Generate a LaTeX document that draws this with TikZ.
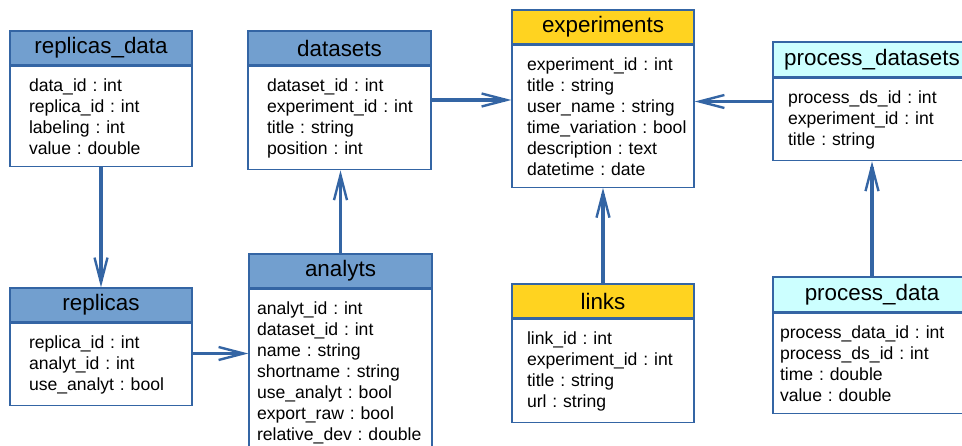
\documentclass[tikz,border=0pt]{standalone}
\usepackage{fontspec}
\setmainfont{Liberation Sans}
\usetikzlibrary{arrows.meta,positioning}
\definecolor{edgeblue}{HTML}{3465A4}
\definecolor{hdblue}{HTML}{729FCF}
\definecolor{hdyellow}{HTML}{FFD320}
\definecolor{hdcyan}{HTML}{CCFFFF}
\frenchspacing
\hyphenpenalty=10000
\begin{document}
\begin{tikzpicture}[x=1pt, y=-1pt,
  tbl/.style={draw=edgeblue, line width=1.3pt, minimum height=34pt, inner sep=0pt, font=\fontsize{22.4}{27}\selectfont},
  fld/.style={draw=edgeblue, line width=1.3pt, fill=white, align=left, inner ysep=12pt, font=\fontsize{17.6}{21}\selectfont},
  fk/.style={draw=edgeblue, line width=3.5pt, -{Straight Barb[length=25pt, width=13pt, line width=2.4pt].}}]
\useasboundingbox (0,0) rectangle (962,446);
\node[tbl, fill=hdblue, minimum width=182pt] (repdataT) at (101,48) {replicas\_data};
\node[fld, below=0pt of repdataT, text width=144pt, inner xsep=19pt] (repdataF) {data\_id~:~int\\replica\_id~:~int\\labeling~:~int\\value~:~double};
\node[tbl, fill=hdblue, minimum width=183pt] (dataT) at (339.5,48) {datasets};
\node[fld, below=0pt of dataT, text width=145pt, inner xsep=19pt] (dataF) {dataset\_id~:~int\\experiment\_id~:~int\\title~:~string\\position~:~int};
\node[tbl, fill=hdyellow, minimum width=182pt] (expT) at (603,27) {experiments};
\node[fld, below=0pt of expT, text width=152pt, inner xsep=15pt] (expF) {experiment\_id~:~int\\title~:~string\\user\_name~:~string\\time\_variation~:~bool\\description~:~text\\datetime~:~date};
\node[tbl, fill=hdcyan, minimum width=198pt, minimum height=35pt] (pdsT) at (872,59.5) {process\_datasets};
\node[fld, below=0pt of pdsT, text width=168pt, inner xsep=15pt] (pdsF) {process\_ds\_id~:~int\\experiment\_id~:~int\\title~:~string};
\node[tbl, fill=hdblue, minimum width=182pt] (repT) at (101,305) {replicas};
\node[fld, below=0pt of repT, text width=144pt, inner xsep=19pt] (repF) {replica\_id~:~int\\analyt\_id~:~int\\use\_analyt~:~bool};
\node[tbl, fill=hdblue, minimum width=183pt] (anaT) at (340.5,271) {analyts};
\node[fld, below=0pt of anaT, text width=167pt, inner xsep=8pt] (anaF) {analyt\_id~:~int\\dataset\_id~:~int\\name~:~string\\shortname~:~string\\use\_analyt~:~bool\\export\_raw~:~bool\\relative\_dev~:~double};
\node[tbl, fill=hdyellow, minimum width=182pt] (linkT) at (603,301) {links};
\node[fld, below=0pt of linkT, text width=152pt, inner xsep=15pt] (linkF) {link\_id~:~int\\experiment\_id~:~int\\title~:~string\\url~:~string};
\node[tbl, fill=hdcyan, minimum width=198pt, minimum height=35pt] (pdT) at (872,294.5) {process\_data};
\node[fld, below=0pt of pdT, text width=184pt, inner xsep=7pt] (pdF) {process\_data\_id~:~int\\process\_ds\_id~:~int\\time~:~double\\value~:~double};
\draw[fk] (repdataF.south) -- (repT.north);
\draw[fk] ([yshift=11pt]repF.east) coordinate (r2a) -- (r2a -| anaF.west);
\draw[fk] (anaT.north) -- (anaT.north |- dataF.south);
\draw[fk] ([yshift=18pt]dataF.east) coordinate (d2e) -- (d2e -| expF.west);
\draw[fk] (linkT.north) -- (expF.south);
\draw[fk] ([yshift=18pt]pdsF.west) coordinate (p2e) -- (p2e -| expF.east);
\draw[fk] (pdT.north) -- (pdsF.south);
\end{tikzpicture}
\end{document}
